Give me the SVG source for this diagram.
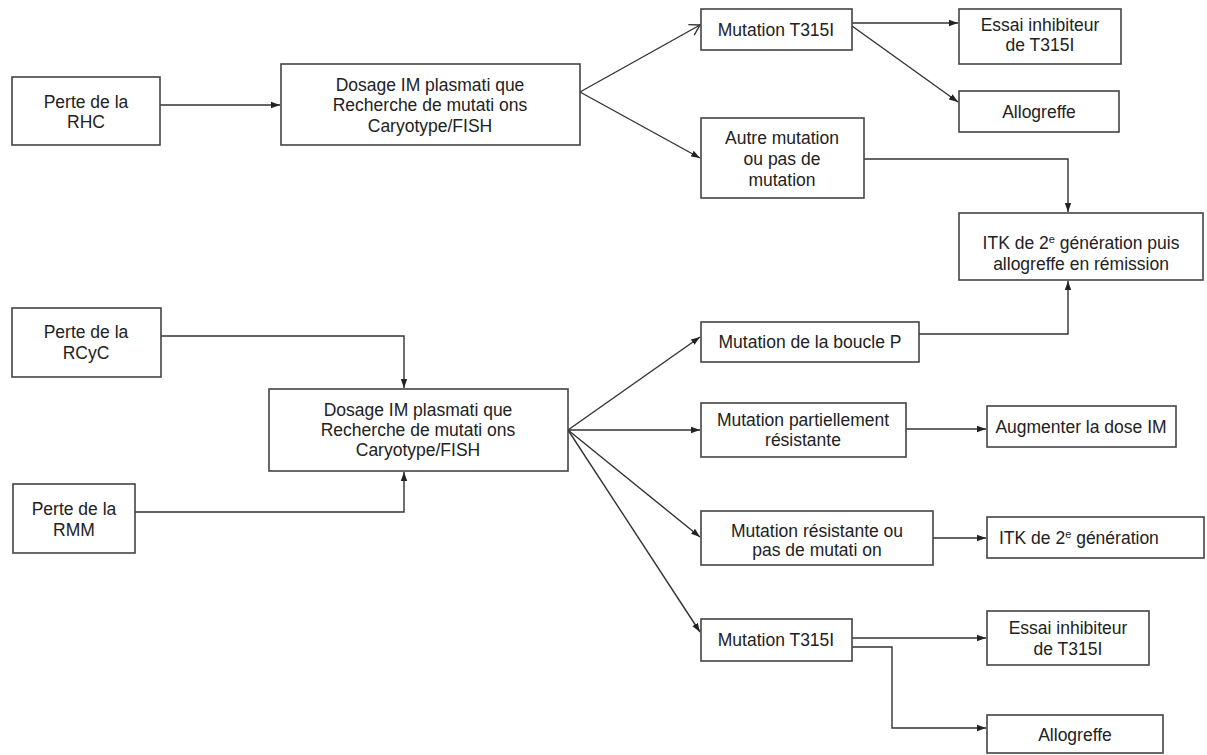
<svg xmlns="http://www.w3.org/2000/svg" width="1207" height="755" viewBox="0 0 1207 755">
<style>
.box{fill:#fff;stroke:#444;stroke-width:1.6}
.t{font-family:"Liberation Sans",Arial,sans-serif;font-size:17.5px;fill:#222;text-anchor:middle}
.ts{text-anchor:start}
.c{fill:none;stroke:#333;stroke-width:1.4}
.sup{font-size:11px}
</style>
<defs>
<marker id="a" markerUnits="userSpaceOnUse" markerWidth="10" markerHeight="8" refX="9" refY="4" orient="auto">
<path d="M0,0.8 L9,4 L0,7.2 Z" fill="#222"/>
</marker>
<marker id="o" markerUnits="userSpaceOnUse" markerWidth="14" markerHeight="14" refX="12" refY="7" orient="auto">
<path d="M2,1 L12,7 L2,13" fill="none" stroke="#333" stroke-width="1.4"/>
</marker>
</defs>
<rect width="1207" height="755" fill="#fff"/>
<g id="connectors">
<path class="c" d="M160,105 H280" marker-end="url(#a)"/>
<path class="c" d="M580,92 L700,25" marker-end="url(#o)"/>
<path class="c" d="M580,92 L700,158" marker-end="url(#a)"/>
<path class="c" d="M852,23 H958" marker-end="url(#a)"/>
<path class="c" d="M852,26 L958,102" marker-end="url(#a)"/>
<path class="c" d="M864,159 H1068 V212" marker-end="url(#a)"/>
<path class="c" d="M919,334 H1068 V281" marker-end="url(#a)"/>
<path class="c" d="M161,336 H404 V388" marker-end="url(#a)"/>
<path class="c" d="M135,512 H404 V472" marker-end="url(#a)"/>
<path class="c" d="M568,430 L700,337" marker-end="url(#a)"/>
<path class="c" d="M568,430 H700" marker-end="url(#a)"/>
<path class="c" d="M568,430 L700,537" marker-end="url(#a)"/>
<path class="c" d="M568,430 L700,632" marker-end="url(#a)"/>
<path class="c" d="M906,429 H986" marker-end="url(#a)"/>
<path class="c" d="M933,538 H986" marker-end="url(#a)"/>
<path class="c" d="M852,638 H986" marker-end="url(#a)"/>
<path class="c" d="M852,647 H892 V728 H986" marker-end="url(#a)"/>
</g>
<g id="n_rhc"><rect class="box" x="12" y="77" width="148" height="68"/><text class="t" x="86" y="108">Perte de la</text><text class="t" x="86" y="128">RHC</text></g>
<g id="n_dosage1"><rect class="box" x="281" y="64" width="299" height="81"/><text class="t" x="430" y="91">Dosage IM plasmati que</text><text class="t" x="430" y="111">Recherche de mutati ons</text><text class="t" x="430" y="132">Caryotype/FISH</text></g>
<g id="n_t315i_1"><rect class="box" x="701" y="9" width="151" height="41"/><text class="t" x="776" y="36">Mutation T315I</text></g>
<g id="n_essai1"><rect class="box" x="959" y="9" width="162" height="55"/><text class="t" x="1040" y="31">Essai inhibiteur</text><text class="t" x="1040" y="51">de T315I</text></g>
<g id="n_allo1"><rect class="box" x="959" y="91" width="160" height="41"/><text class="t" x="1039" y="118">Allogreffe</text></g>
<g id="n_autre"><rect class="box" x="701" y="118" width="163" height="80"/><text class="t" x="782" y="144">Autre mutation</text><text class="t" x="782" y="165">ou pas de</text><text class="t" x="782" y="186">mutation</text></g>
<g id="n_itk_allo"><rect class="box" x="959" y="213" width="244" height="67"/><text class="t" x="1081" y="249">ITK de 2<tspan class="sup" dy="-6">e</tspan><tspan dy="6"> génération puis</tspan></text><text class="t" x="1081" y="270">allogreffe en rémission</text></g>
<g id="n_rcyc"><rect class="box" x="12" y="308" width="149" height="69"/><text class="t" x="86" y="338">Perte de la</text><text class="t" x="86" y="359">RCyC</text></g>
<g id="n_rmm"><rect class="box" x="13" y="484" width="122" height="69"/><text class="t" x="74" y="515">Perte de la</text><text class="t" x="74" y="536">RMM</text></g>
<g id="n_dosage2"><rect class="box" x="269" y="389" width="299" height="82"/><text class="t" x="418" y="416">Dosage IM plasmati que</text><text class="t" x="418" y="436">Recherche de mutati ons</text><text class="t" x="418" y="456">Caryotype/FISH</text></g>
<g id="n_boucle"><rect class="box" x="701" y="322" width="218" height="40"/><text class="t" x="810" y="348">Mutation de la boucle P</text></g>
<g id="n_partiel"><rect class="box" x="701" y="403" width="205" height="54"/><text class="t" x="803" y="426">Mutation partiellement</text><text class="t" x="803" y="446">résistante</text></g>
<g id="n_augm"><rect class="box" x="987" y="406" width="189" height="41"/><text class="t" x="1081" y="433">Augmenter la dose IM</text></g>
<g id="n_resist"><rect class="box" x="701" y="511" width="232" height="54"/><text class="t" x="817" y="537">Mutation résistante ou</text><text class="t" x="817" y="556">pas de mutati on</text></g>
<g id="n_itk2"><rect class="box" x="987" y="517" width="217" height="41"/><text class="t ts" x="999" y="544">ITK de 2<tspan class="sup" dy="-6">e</tspan><tspan dy="6"> génération</tspan></text></g>
<g id="n_t315i_2"><rect class="box" x="701" y="619" width="151" height="42"/><text class="t" x="776" y="646">Mutation T315I</text></g>
<g id="n_essai2"><rect class="box" x="987" y="611" width="162" height="54"/><text class="t" x="1068" y="634">Essai inhibiteur</text><text class="t" x="1068" y="655">de T315I</text></g>
<g id="n_allo2"><rect class="box" x="987" y="715" width="176" height="38"/><text class="t" x="1075" y="741">Allogreffe</text></g>
</svg>
